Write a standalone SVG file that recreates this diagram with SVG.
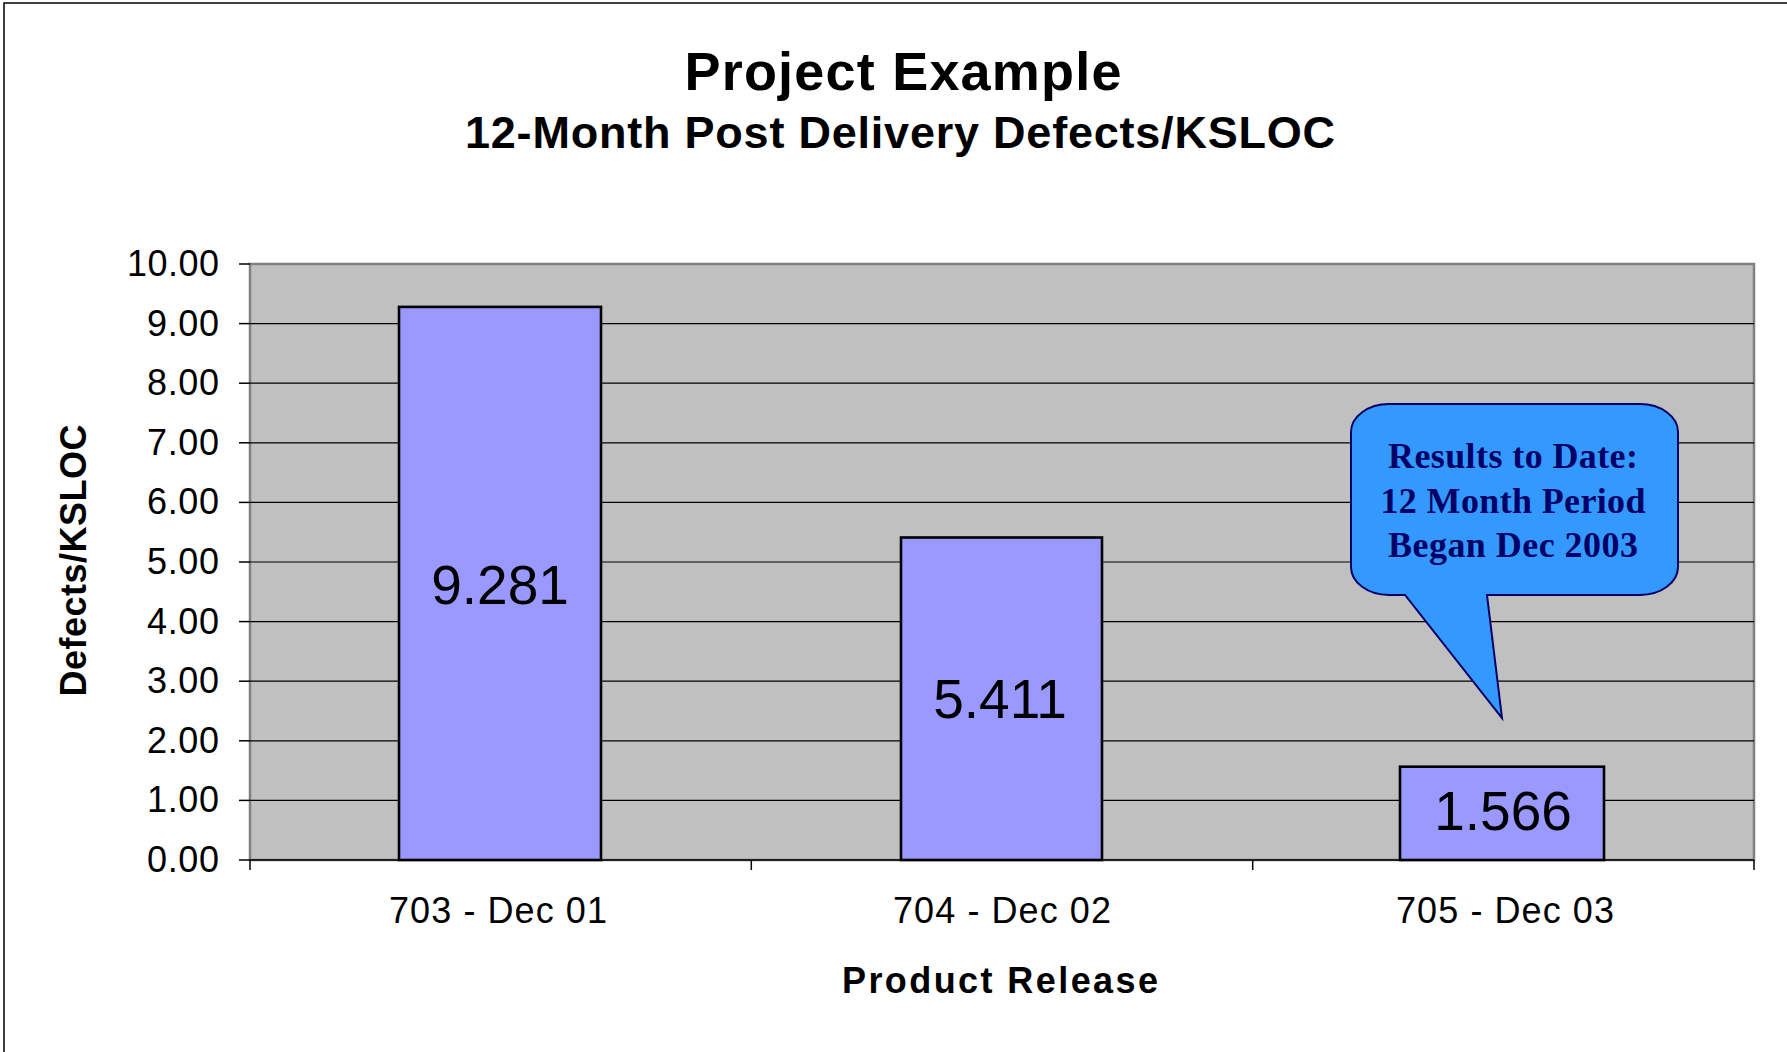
<svg xmlns="http://www.w3.org/2000/svg" width="1787" height="1052" viewBox="0 0 1787 1052">
  <style>
    .title { font-family: "Liberation Sans", Arial, sans-serif; font-weight: bold; fill: #000; }
    .tick { font-family: "Liberation Sans", Arial, sans-serif; font-size: 36px; fill: #000; }
    .val { font-family: "Liberation Sans", Arial, sans-serif; font-size: 55px; fill: #000; text-anchor: middle; }
    .axisTitle { font-family: "Liberation Sans", Arial, sans-serif; font-weight: bold; font-size: 36px; fill: #000; text-anchor: middle; }
    .grid { stroke: #000; stroke-width: 1.2; }
    .tk { stroke: #000; stroke-width: 1.5; }
    .bar { fill: #9999FF; stroke: #000; stroke-width: 2.6; }
    .note { font-family: "Liberation Serif", "Times New Roman", serif; font-weight: bold; font-size: 36px; fill: #000066; text-anchor: middle; }
  </style>

  <!-- chart frame -->
  <rect x="0" y="0" width="1787" height="1052" fill="#fff"/>
  <rect x="4" y="3" width="1800" height="1070" fill="none" stroke="#000" stroke-width="1.5"/>

  <!-- titles -->
  <g id="title">
    <text class="title" x="903" y="90" font-size="54" text-anchor="middle" textLength="437">Project Example</text>
    <text class="title" x="900" y="148" font-size="45" text-anchor="middle" textLength="870">12-Month Post Delivery Defects/KSLOC</text>
  </g>

  <!-- plot area -->
  <g id="plot">
    <rect x="250" y="264" width="1504" height="596" fill="#C0C0C0" stroke="#808080" stroke-width="2.5"/>
    <g class="grid">
      <line x1="250" y1="800.4" x2="1754" y2="800.4"/>
      <line x1="250" y1="740.8" x2="1754" y2="740.8"/>
      <line x1="250" y1="681.2" x2="1754" y2="681.2"/>
      <line x1="250" y1="621.6" x2="1754" y2="621.6"/>
      <line x1="250" y1="562" x2="1754" y2="562"/>
      <line x1="250" y1="502.4" x2="1754" y2="502.4"/>
      <line x1="250" y1="442.8" x2="1754" y2="442.8"/>
      <line x1="250" y1="383.2" x2="1754" y2="383.2"/>
      <line x1="250" y1="323.6" x2="1754" y2="323.6"/>
    </g>
  </g>

  <!-- axes and tick marks -->
  <g id="axes">
    <g class="tk">
      <line x1="250" y1="860" x2="1754" y2="860"/>
      <line x1="239" y1="860" x2="250" y2="860"/>
      <line x1="239" y1="800.4" x2="250" y2="800.4"/>
      <line x1="239" y1="740.8" x2="250" y2="740.8"/>
      <line x1="239" y1="681.2" x2="250" y2="681.2"/>
      <line x1="239" y1="621.6" x2="250" y2="621.6"/>
      <line x1="239" y1="562" x2="250" y2="562"/>
      <line x1="239" y1="502.4" x2="250" y2="502.4"/>
      <line x1="239" y1="442.8" x2="250" y2="442.8"/>
      <line x1="239" y1="383.2" x2="250" y2="383.2"/>
      <line x1="239" y1="323.6" x2="250" y2="323.6"/>
      <line x1="239" y1="264" x2="250" y2="264"/>
      <line x1="250" y1="860" x2="250" y2="870"/>
      <line x1="751.3" y1="860" x2="751.3" y2="870"/>
      <line x1="1252.7" y1="860" x2="1252.7" y2="870"/>
      <line x1="1754" y1="860" x2="1754" y2="870"/>
    </g>
    <g class="tick" text-anchor="end">
      <text x="219" y="872" textLength="72">0.00</text>
      <text x="219" y="812.4" textLength="72">1.00</text>
      <text x="219" y="752.8" textLength="72">2.00</text>
      <text x="219" y="693.2" textLength="72">3.00</text>
      <text x="219" y="633.6" textLength="72">4.00</text>
      <text x="219" y="574" textLength="72">5.00</text>
      <text x="219" y="514.4" textLength="72">6.00</text>
      <text x="219" y="454.8" textLength="72">7.00</text>
      <text x="219" y="395.2" textLength="72">8.00</text>
      <text x="219" y="335.6" textLength="72">9.00</text>
      <text x="219" y="276" textLength="92">10.00</text>
    </g>
    <g class="tick" text-anchor="middle">
      <text x="498" y="923" textLength="218">703 - Dec 01</text>
      <text x="1002" y="923" textLength="218">704 - Dec 02</text>
      <text x="1505" y="923" textLength="218">705 - Dec 03</text>
    </g>
    <text class="axisTitle" x="1000" y="993" textLength="316">Product Release</text>
    <text class="axisTitle" transform="translate(86,560.5) rotate(-90)" x="0" y="0" textLength="272">Defects/KSLOC</text>
  </g>

  <!-- bars -->
  <g id="bar-703">
    <rect class="bar" x="399" y="306.9" width="202" height="553.1"/>
    <text class="val" x="500" y="604">9.281</text>
  </g>
  <g id="bar-704">
    <rect class="bar" x="901" y="537.5" width="201" height="322.5"/>
    <text class="val" x="1000" y="718">5.411</text>
  </g>
  <g id="bar-705">
    <rect class="bar" x="1400" y="766.7" width="204" height="93.3"/>
    <text class="val" x="1503" y="830">1.566</text>
  </g>

  <!-- callout note -->
  <g id="note">
    <path d="M 1389,404 H 1640 A 38 28 0 0 1 1678,432 V 567 A 38 28 0 0 1 1640,595 H 1487 L 1502,718 L 1405,595 H 1389 A 38 28 0 0 1 1351,567 V 432 A 38 28 0 0 1 1389,404 Z" fill="#3399FF" stroke="#000066" stroke-width="2"/>
    <text class="note" x="1513" y="468" textLength="250">Results to Date:</text>
    <text class="note" x="1513" y="513" textLength="265">12 Month Period</text>
    <text class="note" x="1513" y="557" textLength="250">Began Dec 2003</text>
  </g>
</svg>
